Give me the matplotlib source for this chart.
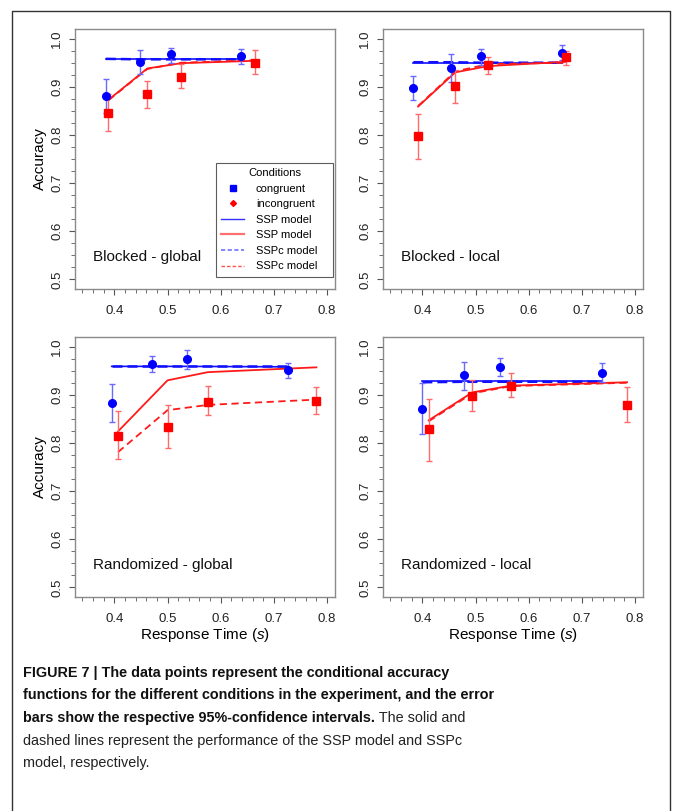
import matplotlib
matplotlib.use("Agg")
import matplotlib.pyplot as plt
from matplotlib.lines import Line2D
from matplotlib.ticker import MultipleLocator

plt.rcParams['font.family'] = ['Liberation Sans', 'DejaVu Sans']
plt.rcParams['mathtext.fontset'] = 'custom'
plt.rcParams['mathtext.it'] = 'Liberation Sans:italic'
plt.rcParams['mathtext.rm'] = 'Liberation Sans'

panels = ["Blocked - global", "Blocked - local", "Randomized - global", "Randomized - local"]

# congruent data (blue)
cong_rt = [[0.384, 0.449, 0.507, 0.638], [0.383, 0.454, 0.511, 0.662],
           [0.395, 0.471, 0.536, 0.727], [0.400, 0.478, 0.546, 0.738]]
cong_acc = [[0.881, 0.952, 0.968, 0.963], [0.898, 0.940, 0.963, 0.970],
            [0.883, 0.964, 0.974, 0.952], [0.871, 0.941, 0.957, 0.945]]
cong_lo = [[0.845, 0.926, 0.949, 0.947], [0.873, 0.909, 0.945, 0.956],
           [0.843, 0.947, 0.954, 0.934], [0.819, 0.909, 0.938, 0.926]]
cong_hi = [[0.916, 0.977, 0.981, 0.979], [0.923, 0.968, 0.979, 0.986],
           [0.922, 0.981, 0.994, 0.966], [0.924, 0.968, 0.976, 0.966]]

# incongruent data (red)
inc_rt = [[0.389, 0.462, 0.526, 0.665], [0.392, 0.462, 0.524, 0.670],
          [0.407, 0.500, 0.576, 0.780], [0.412, 0.494, 0.567, 0.785]]
inc_acc = [[0.845, 0.884, 0.921, 0.949], [0.798, 0.902, 0.945, 0.961],
           [0.815, 0.834, 0.886, 0.888], [0.828, 0.898, 0.919, 0.879]]
inc_lo = [[0.809, 0.855, 0.898, 0.926], [0.751, 0.867, 0.926, 0.945],
          [0.766, 0.790, 0.857, 0.860], [0.762, 0.867, 0.895, 0.843]]
inc_hi = [[0.885, 0.912, 0.948, 0.976], [0.843, 0.934, 0.961, 0.974],
          [0.867, 0.879, 0.919, 0.917], [0.892, 0.931, 0.945, 0.916]]

# model predictions
ssp_cong = [[0.957, 0.957, 0.957, 0.957], [0.950, 0.950, 0.950, 0.950],
            [0.959, 0.959, 0.959, 0.958], [0.929, 0.929, 0.929, 0.929]]
sspc_cong = [[0.958, 0.957, 0.957, 0.957], [0.951, 0.951, 0.950, 0.950],
             [0.960, 0.960, 0.960, 0.960], [0.926, 0.927, 0.927, 0.927]]
ssp_inc = [[0.873, 0.938, 0.949, 0.954], [0.859, 0.930, 0.943, 0.952],
           [0.824, 0.930, 0.947, 0.957], [0.847, 0.905, 0.919, 0.926]]
sspc_inc = [[0.872, 0.937, 0.950, 0.955], [0.860, 0.932, 0.947, 0.950],
            [0.781, 0.868, 0.879, 0.890], [0.845, 0.903, 0.918, 0.925]]

W, H = 673, 811
fig = plt.figure(figsize=(W / 100, H / 100), dpi=100)

# outer frame of the figure box
fig.add_artist(Line2D([12 / W, 12 / W, 670 / W, 670 / W], [0, 1 - 11 / H, 1 - 11 / H, 0],
                      color='#333333', lw=1.0, transform=fig.transFigure))

frame = '#8a8a8a'
pos = [(75, 289), (383, 289), (75, 597), (383, 597)]
axes = []
for i, (px, py) in enumerate(pos):
    ax = fig.add_axes([px / W, 1 - py / H, 260 / W, 260 / H])
    axes.append(ax)
    ax.set_xlim(0.326, 0.815)
    ax.set_ylim(0.48, 1.02)
    for s in ax.spines.values():
        s.set_color(frame)
        s.set_linewidth(1.0)
    ax.xaxis.set_minor_locator(MultipleLocator(0.02))
    ax.yaxis.set_minor_locator(MultipleLocator(0.025))
    ax.tick_params(which='major', length=4.5, color='#555555', labelsize=9.5, labelcolor='#222222')
    ax.tick_params(which='minor', length=3, color='#555555')
    ax.tick_params(axis='x', pad=7)
    ax.tick_params(axis='y', pad=4)
    ax.set_xticks([0.4, 0.5, 0.6, 0.7, 0.8])
    ax.set_xticklabels(['0.4', '0.5', '0.6', '0.7', '0.8'])
    ax.set_yticks([0.5, 0.6, 0.7, 0.8, 0.9, 1.0])
    ax.set_yticklabels(['0.5', '0.6', '0.7', '0.8', '0.9', '1.0'], rotation=90, va='center')

    # models
    ax.plot(cong_rt[i], ssp_cong[i], color='#1010ff', lw=1.2)
    ax.plot(cong_rt[i], sspc_cong[i], color='#1010ff', lw=1.8, ls=(0, (4, 2)))
    ax.plot(inc_rt[i], ssp_inc[i], color='#ff1a1a', lw=1.3)
    ax.plot(inc_rt[i], sspc_inc[i], color='#ff1a1a', lw=1.3, ls=(0, (4, 2.5)))

    # data with confidence intervals
    c_err = [[a - l for a, l in zip(cong_acc[i], cong_lo[i])],
             [h - a for a, h in zip(cong_acc[i], cong_hi[i])]]
    r_err = [[a - l for a, l in zip(inc_acc[i], inc_lo[i])],
             [h - a for a, h in zip(inc_acc[i], inc_hi[i])]]
    ax.errorbar(cong_rt[i], cong_acc[i], yerr=c_err, fmt='none', ecolor='#6a6aff',
                elinewidth=1.0, capsize=2.5, capthick=1.0)
    ax.errorbar(inc_rt[i], inc_acc[i], yerr=r_err, fmt='none', ecolor='#ff6a6a',
                elinewidth=1.0, capsize=2.5, capthick=1.0)
    ax.plot(cong_rt[i], cong_acc[i], 'o', color='#0000ff', ms=5.5, ls='none')
    ax.plot(inc_rt[i], inc_acc[i], 's', color='#ff0000', ms=5.5, ls='none')

    ax.text(0.07, 0.123, panels[i], transform=ax.transAxes, fontsize=11,
            ha='left', va='center', color='#111111')

    if i % 2 == 0:
        ax.set_ylabel('Accuracy', fontsize=11, labelpad=3)
    if i >= 2:
        ax.set_xlabel('Response Time ($\\mathit{s}$)', fontsize=11, labelpad=1)

handles = [
    Line2D([], [], marker='s', color='#0000ff', ls='none', ms=4),
    Line2D([], [], marker='D', color='#ff0000', ls='none', ms=3),
    Line2D([], [], color='#3030ff', lw=1.0),
    Line2D([], [], color='#ff7070', lw=1.6),
    Line2D([], [], color='#7070ff', lw=1.2, ls=(0, (2.5, 1.5))),
    Line2D([], [], color='#ff5050', lw=1.0, ls=(0, (2.5, 1.5))),
]
labels = ['congruent', 'incongruent', 'SSP model', 'SSP model', 'SSPc model', 'SSPc model']
leg = axes[0].legend(handles, labels, title='Conditions', loc='lower left',
                     bbox_to_anchor=(0.542, 0.046, 0.45, 0.44), mode='expand',
                     fontsize=8, title_fontsize=8,
                     frameon=True, fancybox=False, borderpad=0.5, labelspacing=0.5,
                     handlelength=2.0, handletextpad=1.1, borderaxespad=0)
leg.get_frame().set_edgecolor('#333333')
leg.get_frame().set_linewidth(0.8)

# caption
cap_font = ['Liberation Sans', 'DejaVu Sans']
bold_lines = ["FIGURE 7 | The data points represent the conditional accuracy",
              "functions for the different conditions in the experiment, and the error",
              "bars show the respective 95%-confidence intervals."]
reg_lines = ["dashed lines represent the performance of the SSP model and SSPc",
             "model, respectively."]
base = [677, 699.5, 722, 744.5, 767]
cx = 23 / W
for k, t in enumerate(bold_lines):
    last = fig.text(cx, 1 - base[k] / H, t, fontsize=10.4, fontweight='bold',
                    family=cap_font, va='baseline', ha='left', color='#111111')
axes[0].annotate(" The solid and", xy=(1, 0), xycoords=last, xytext=(0, 0),
                 textcoords='offset points', fontsize=10.4, family=cap_font,
                 va='bottom', ha='left', color='#222222', annotation_clip=False)
for k, t in enumerate(reg_lines):
    fig.text(cx, 1 - base[k + 3] / H, t, fontsize=10.4, family=cap_font,
             va='baseline', ha='left', color='#222222')

fig.savefig('out.png', dpi=100)
